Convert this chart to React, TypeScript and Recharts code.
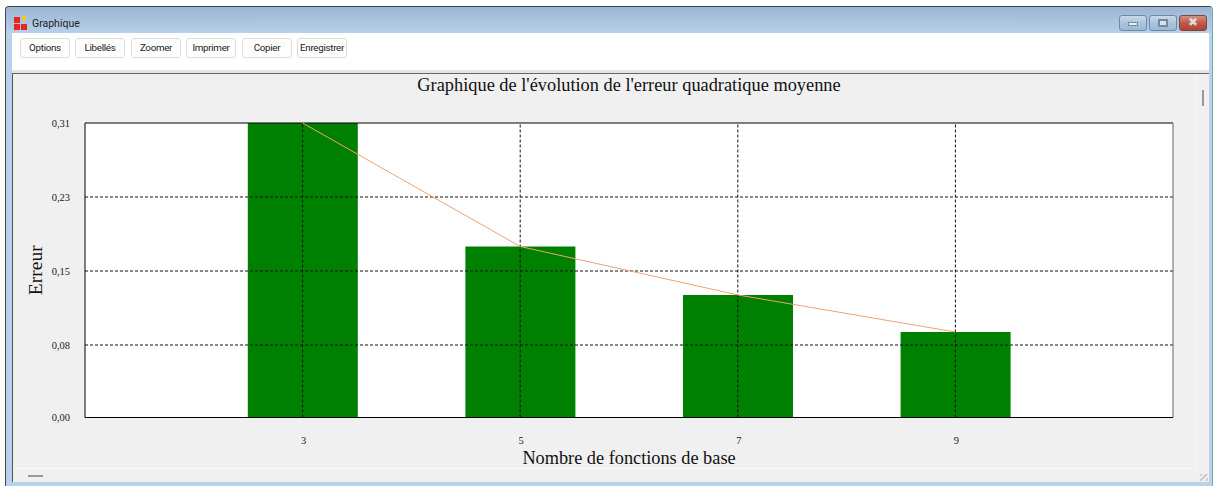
import { ComposedChart, Bar, Line, XAxis, YAxis, CartesianGrid, ReferenceLine } from 'recharts'

const fonctions = [3, 5, 7, 9]
const erreurs = [0.31, 0.18, 0.129, 0.09]
const yTicks = [0, 0.0763, 0.1542, 0.2321, 0.31]
const yTickLabels = ['0,00', '0,08', '0,15', '0,23', '0,31']
const toolbarLabels = ['Options', 'Libellés', 'Zoomer', 'Imprimer', 'Copier', 'Enregistrer']
const toolbarLefts = [20, 75, 131, 186, 242, 297]

const data = fonctions.map((f, i) => ({ f, erreur: erreurs[i] }))
const SERIF = '"Liberation Serif", serif'
const UI_FONT = 'Roboto, "Liberation Sans", sans-serif'

function box(left: number, top: number, width: number, height: number, extra: React.CSSProperties = {}): React.CSSProperties {
  return { position: 'absolute', left, top, width, height, boxSizing: 'border-box', ...extra }
}

// ── Window frame around the chart ───────────────────────────────────────────

function WindowFrame(): JSX.Element {
  const capBtn = 'linear-gradient(#c8d9ea, #adc5dd 50%, #9ab7d3)'
  return (
    <>
      <div style={box(5, 6, 1208, 480, { background: '#b9d1ea', borderTop: '1px solid #444', borderLeft: '1px solid #444', borderRight: '1px solid #7aa', borderRadius: '4px 4px 0 0' })} />
      <div style={box(6, 7, 1206, 27, { background: 'linear-gradient(#9ab5d3, #b9d1ea)', borderRadius: '4px 4px 0 0' })} />
      {/* app icon */}
      <div style={box(14, 17, 6, 6, { background: '#e8251f' })} />
      <div style={box(22, 16, 4, 5, { background: '#e8c93a' })} />
      <div style={box(14, 24, 6, 6, { background: '#e8251f' })} />
      <div style={box(21, 24, 6, 6, { background: '#e8251f' })} />
      <div style={{ position: 'absolute', left: 32, top: 17, fontFamily: UI_FONT, fontSize: 10.5, color: '#222' }}>Graphique</div>
      {/* caption buttons */}
      <div style={box(1119, 15, 28, 16, { background: capBtn, border: '1px solid #6a8aa8', borderRadius: 3 })} />
      <div style={box(1128, 22, 10, 4, { background: '#e8eef4', border: '1px solid #789' })} />
      <div style={box(1149, 15, 28, 16, { background: capBtn, border: '1px solid #6a8aa8', borderRadius: 3 })} />
      <div style={box(1158, 19, 10, 8, { background: '#d5e1ec', border: '2px solid #789' })} />
      <div style={box(1179, 15, 28, 16, { background: 'linear-gradient(#d4907f, #c05a48 50%, #b04432)', border: '1px solid #7a4a40', borderRadius: 3 })} />
      <div style={{ position: 'absolute', left: 1179, top: 15, width: 28, textAlign: 'center', fontFamily: 'DejaVu Sans', fontWeight: 700, fontSize: 12, color: '#ddd' }}>✖</div>
      {/* toolbar */}
      <div style={box(12, 33, 1197, 38, { background: '#fff' })} />
      <div style={box(12, 70, 1197, 4, { background: '#e4e4e4', borderBottom: '1px solid #666' })} />
      {toolbarLabels.map((label, i) => (
        <div
          key={label}
          style={box(toolbarLefts[i], 38, 50, 20, {
            background: '#fdfdfd',
            border: '1px solid #ddd',
            borderRadius: 3,
            fontFamily: UI_FONT,
            fontSize: 9.8,
            letterSpacing: -0.3,
            lineHeight: '18px',
            textAlign: 'center',
            color: '#222',
          })}
        >
          {label}
        </div>
      ))}
      {/* client area */}
      <div style={box(12, 74, 1197, 408, { background: '#f0f0f0', borderLeft: '1px solid #555' })} />
      <div style={box(13, 74, 1184, 395, { borderRight: '1px solid #f8f8f8', borderBottom: '1px solid #f8f8f8' })} />
      <div style={box(1202, 90, 2, 16, { background: '#999' })} />
      <div style={box(28, 475, 15, 2, { background: '#999' })} />
      <div style={box(1200, 474, 8, 7, { background: 'repeating-linear-gradient(135deg, #ccc 0 2px, transparent 2px 4px)' })} />
    </>
  )
}

export default function App(): JSX.Element {
  return (
    <div style={{ position: 'absolute', left: 0, top: 0, width: 1215, height: 486, background: '#fff', overflow: 'hidden' }}>
      <WindowFrame />
      <div style={{ position: 'absolute', left: 0, top: 0 }}>
        <ComposedChart width={1215} height={486} data={data} margin={{ top: 123, right: 42, bottom: 0, left: 0 }}>
          <CartesianGrid horizontal={false} vertical={false} fill="#fff" />
          <XAxis
            dataKey="f"
            type="number"
            domain={[1, 11]}
            ticks={fonctions}
            height={68.5}
            stroke="#000"
            tickSize={0}
            tickMargin={19}
            tick={{ fontFamily: SERIF, fontSize: 10.5, fill: '#222', dx: 1 }}
            label={{ value: 'Nombre de fonctions de base', position: 'insideBottom', offset: 22, fontFamily: SERIF, fontSize: 18.3, fill: '#111' }}
          />
          <YAxis
            type="number"
            domain={[0, 0.31]}
            ticks={yTicks}
            width={85}
            stroke="#000"
            tickSize={0}
            tickMargin={15}
            tickFormatter={(_, i) => yTickLabels[i]}
            tick={{ fontFamily: SERIF, fontSize: 10.5, fill: '#222' }}
            label={{ value: 'Erreur', angle: -90, position: 'center', dx: -7, fontFamily: SERIF, fontSize: 19.5, fill: '#111' }}
          />
          <Bar dataKey="erreur" fill="#008000" barSize={110} isAnimationActive={false} />
          {yTicks.slice(1, -1).map((v) => (
            <ReferenceLine key={v} y={v} stroke="#111" strokeDasharray="3 2" />
          ))}
          {fonctions.map((v) => (
            <ReferenceLine key={v} x={v} stroke="#111" strokeDasharray="3 2" />
          ))}
          <ReferenceLine y={0.31} stroke="#000" />
          <ReferenceLine x={11} stroke="#666" />
          <Line dataKey="erreur" stroke="#f2a070" strokeWidth={1} dot={false} isAnimationActive={false} />
        </ComposedChart>
      </div>
      <div style={{ position: 'absolute', left: 0, width: 1258, top: 75, textAlign: 'center', fontFamily: SERIF, fontSize: 18.35, color: '#111' }}>
        Graphique de l'évolution de l'erreur quadratique moyenne
      </div>
    </div>
  )
}
